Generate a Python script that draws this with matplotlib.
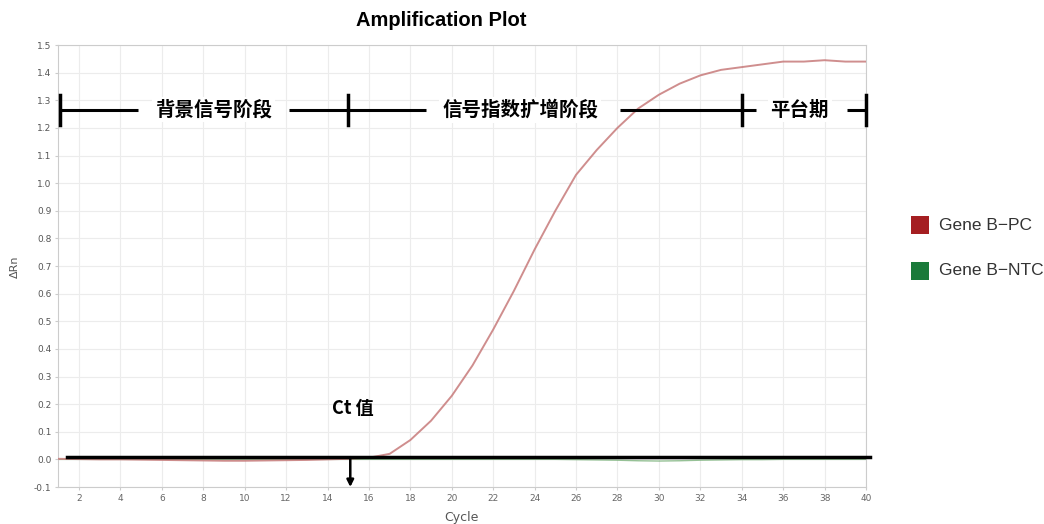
import matplotlib
matplotlib.use("Agg")
import matplotlib.pyplot as plt
import numpy as np

plt.rcParams['font.family'] = ['Noto Sans CJK SC', 'DejaVu Sans']

cycles = list(range(1, 41))
pc_values = [0.002, 0.001, 0.0, 0.0, -0.001, -0.002, -0.003, -0.004, -0.005, -0.005,
             -0.004, -0.003, -0.002, 0.0, 0.002, 0.006, 0.02, 0.07, 0.14, 0.23,
             0.34, 0.47, 0.61, 0.76, 0.90, 1.03, 1.12, 1.20, 1.27, 1.32,
             1.36, 1.39, 1.41, 1.42, 1.43, 1.44, 1.44, 1.445, 1.44, 1.44]
ntc_values = [0.0, 0.0, 0.0, 0.0, 0.0, 0.0, 0.0, 0.0, 0.0, 0.0,
              0.0, 0.0, 0.0, 0.0, 0.0, 0.0, 0.0, 0.0, 0.0, 0.0,
              0.0, 0.0, 0.0, 0.0, 0.0, -0.001, -0.002, -0.003, -0.005, -0.006,
              -0.005, -0.003, -0.002, -0.001, -0.001, 0.0, 0.0, 0.0, 0.0, 0.0]
threshold = 0.008
ct_value = 15.1
phase_labels = ["背景信号阶段", "信号指数扩增阶段", "平台期"]
phase_bounds = [1.1, 15.0, 34.0, 40.0]
series_names = ["Gene B\u2212PC", "Gene B\u2212NTC"]
legend_colors = ["#a51e22", "#1a7a3a"]
xticks = list(range(2, 41, 2))
yticks = [round(-0.1 + 0.1 * i, 1) for i in range(17)]

fig = plt.figure(figsize=(10.44, 5.24), dpi=100)
ax = fig.add_axes([0.0558, 0.0706, 0.7737, 0.8435])
ax.set_xlim(1, 40)
ax.set_ylim(-0.1, 1.5)
ax.set_xticks(xticks)
ax.set_yticks(yticks)
ax.set_xticklabels([str(t) for t in xticks], fontsize=6.5, color="#666666", family="DejaVu Sans")
ax.set_yticklabels([f"{t:.1f}" for t in yticks], fontsize=6.5, color="#555555", family="DejaVu Sans")
ax.tick_params(length=2, color="#cccccc", pad=3)
ax.grid(True, color="#ececec", linewidth=0.8)
ax.set_axisbelow(True)
for s in ax.spines.values():
    s.set_color("#cccccc")

ax.plot(cycles, ntc_values, color="#6aa86a", linewidth=1.0, alpha=0.7, zorder=2)
ax.plot(cycles, pc_values, color="#c77a7a", linewidth=1.4, alpha=0.85, zorder=3)

# threshold line
ax.plot([1.4, 40.2], [threshold, threshold], color="black", linewidth=2.5, clip_on=False, zorder=5)

# Ct arrow
ax.annotate("", xy=(ct_value, -0.1), xytext=(ct_value, threshold),
            arrowprops=dict(arrowstyle="-|>", color="black", lw=1.8, mutation_scale=10,
                            shrinkA=0, shrinkB=0), zorder=6, annotation_clip=False)
ax.text(ct_value + 0.1, 0.185, "Ct 值", fontsize=13, fontweight="bold", ha="center", va="center")

# phase bars: horizontal segments with gaps around the labels
ybar = 1.265
label_gaps = [(4.85, 12.15), (18.75, 28.1), (34.7, 39.1)]
seg_edges = [phase_bounds[0]]
for g0, g1 in label_gaps:
    seg_edges += [g0, g1]
seg_edges.append(phase_bounds[-1])
for j in range(0, len(seg_edges), 2):
    ax.plot([seg_edges[j], seg_edges[j + 1]], [ybar, ybar], color="black", lw=2.2,
            clip_on=False, zorder=5, solid_capstyle="butt")
for b in phase_bounds:
    ax.plot([b, b], [ybar - 0.055, ybar + 0.055], color="black", lw=2.5, clip_on=False, zorder=5)
centers = [8.5, 23.3, 36.8]
for lab, c in zip(phase_labels, centers):
    ax.text(c, ybar, lab, fontsize=14, fontweight="bold", ha="center", va="center", zorder=6,
            bbox=dict(facecolor="white", edgecolor="none", pad=2))

fig.text(0.423, 0.96, "Amplification Plot", fontsize=14.5, fontweight="bold", ha="center", va="center",
         family=["Liberation Sans", "DejaVu Sans"])
fig.text(0.442, 0.012, "Cycle", fontsize=9, ha="center", va="center", color="#555555", family="DejaVu Sans")
fig.text(0.014, 0.49, "\u0394Rn", fontsize=8, ha="center", va="center", rotation=90, color="#555555",
         family="DejaVu Sans")

# legend
for i, (name, col) in enumerate(zip(series_names, legend_colors)):
    yc = 0.57 - i * 0.087
    fig.patches.append(plt.Rectangle((0.8725, yc - 0.017), 0.0175, 0.034, transform=fig.transFigure,
                                     facecolor=col, edgecolor="none"))
    fig.text(0.899, yc, name, fontsize=12.5, ha="left", va="center", color="#333333",
             family=["Liberation Sans", "DejaVu Sans"])

fig.savefig("out.png", dpi=100)
